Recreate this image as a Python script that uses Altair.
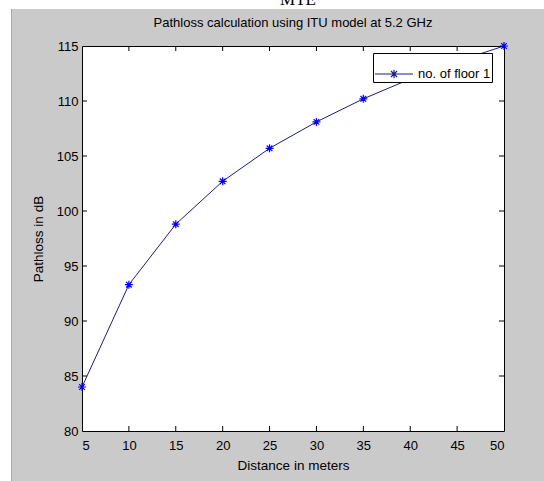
import altair as alt
import pandas as pd

# ---- data ----
distance = [5, 10, 15, 20, 25, 30, 35, 40, 45, 50]
pathloss = [84.0, 93.3, 98.8, 102.7, 105.7, 108.1, 110.2, 112.0, 113.6, 115.0]
series_name = "no. of floor 1"
chart_title = "Pathloss calculation using ITU model at 5.2 GHz"
x_ticks = [10, 15, 20, 25, 30, 35, 40, 45]
y_ticks = [85, 90, 95, 100, 105, 110]
x_tick_labels = [5, 10, 15, 20, 25, 30, 35, 40, 45, 50]
y_tick_labels = [80, 85, 90, 95, 100, 105, 110, 115]

df = pd.DataFrame({"d": distance, "pl": pathloss, "series": [series_name] * len(distance)})
xt = pd.DataFrame({"t": x_ticks})
yt = pd.DataFrame({"t": y_ticks})

W, H = 422, 385
FONT = "Arial, Liberation Sans, sans-serif"
LINE_COLOR = "#1c1c8a"
MARK_COLOR = "#0000ff"
STAR = "M-1,0L1,0M0,-1L0,1M-0.7,-0.7L0.7,0.7M-0.7,0.7L0.7,-0.7"
LEG_SYM = "M-1,0L1,0M0,-0.22L0,0.22M-0.16,-0.16L0.16,0.16M-0.16,0.16L0.16,-0.16"

xs = alt.Scale(domain=[5, 50], nice=False, zero=False)
ys = alt.Scale(domain=[80, 115], nice=False, zero=False)

x_axis = alt.Axis(values=x_tick_labels, title="Distance in meters", domain=False, ticks=False,
                  grid=False, labelPadding=8, titlePadding=6, format="d")
y_axis = alt.Axis(values=y_tick_labels, title="Pathloss in dB", domain=False, ticks=False,
                  grid=False, labelPadding=4, titlePadding=11, format="d")

line = alt.Chart(df).mark_line(strokeWidth=1).encode(
    x=alt.X("d:Q", scale=xs, axis=x_axis),
    y=alt.Y("pl:Q", scale=ys, axis=y_axis),
    color=alt.Color("series:N", scale=alt.Scale(range=[LINE_COLOR]),
                    legend=alt.Legend(title=None, orient="none", legendX=291, legendY=7,
                                      fillColor="white", strokeColor="black", padding=1,
                                      symbolType=LEG_SYM, symbolSize=1444, symbolStrokeWidth=1.2,
                                      symbolStrokeColor=LINE_COLOR,
                                      labelFontSize=13, labelFont=FONT, labelColor="black",
                                      cornerRadius=0)),
)

points = alt.Chart(df).mark_point(shape=STAR, size=64, filled=False, strokeWidth=1.2,
                                  color=MARK_COLOR, opacity=1).encode(
    x=alt.X("d:Q", scale=xs),
    y=alt.Y("pl:Q", scale=ys),
)

tick_b = alt.Chart(xt).mark_rule(color="black", strokeWidth=1).encode(
    x=alt.X("t:Q", scale=xs), y=alt.value(H), y2=alt.value(H - 5))
tick_t = alt.Chart(xt).mark_rule(color="black", strokeWidth=1).encode(
    x=alt.X("t:Q", scale=xs), y=alt.value(0), y2=alt.value(5))
tick_l = alt.Chart(yt).mark_rule(color="black", strokeWidth=1).encode(
    y=alt.Y("t:Q", scale=ys), x=alt.value(0), x2=alt.value(5))
tick_r = alt.Chart(yt).mark_rule(color="black", strokeWidth=1).encode(
    y=alt.Y("t:Q", scale=ys), x=alt.value(W), x2=alt.value(W - 5))

# decorative page background (white strips outside the figure window) and cropped page text
deco = pd.DataFrame({"k": [0]})
white_top = alt.Chart(deco).mark_rect(color="white").encode(
    x=alt.value(-82), x2=alt.value(462), y=alt.value(-46), y2=alt.value(-37))
white_left = alt.Chart(deco).mark_rect(color="white").encode(
    x=alt.value(-82), x2=alt.value(-71), y=alt.value(-46), y2=alt.value(435))
edge_left = alt.Chart(deco).mark_rule(color="#a8a8a8", strokeWidth=1).encode(
    x=alt.value(-70.5), y=alt.value(-37), y2=alt.value(435))
page_text = alt.Chart(pd.DataFrame({"s": ["MTE"]})).mark_text(
    font="Liberation Serif", fontSize=17, color="black", baseline="alphabetic", align="center"
).encode(text="s:N", x=alt.value(216), y=alt.value(-41))

title_text = alt.Chart(pd.DataFrame({"s": [chart_title]})).mark_text(
    font=FONT, fontSize=13, color="black", baseline="middle", align="center"
).encode(text="s:N", x=alt.value(W / 2), y=alt.value(-23))

chart = alt.layer(
    white_top, white_left, edge_left, page_text, title_text,
    line, points, tick_b, tick_t, tick_l, tick_r
).properties(
    width=W, height=H,
    autosize=alt.AutoSizeParams(type="none"),
    padding={"left": 82, "top": 46, "right": 40, "bottom": 50},
    background="#cacaca",
).configure_view(
    fill="white", stroke="black", strokeWidth=1
).configure_axis(
    labelFont=FONT, labelFontSize=13, labelColor="black",
    titleFont=FONT, titleFontSize=13.5, titleColor="black", titleFontWeight="normal",
)

chart.save("out.html", embed_options={"renderer": "svg", "actions": False})
